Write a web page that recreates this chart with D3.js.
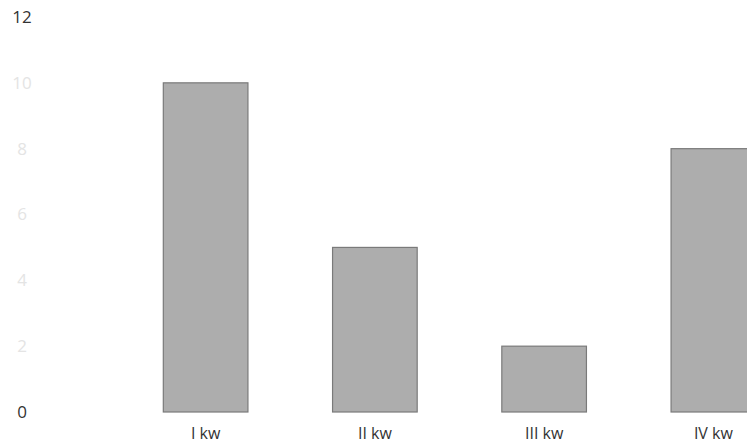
<!DOCTYPE html>
<html>
<head>
<meta charset="utf-8">
<script src="https://cdn.jsdelivr.net/npm/d3@7"></script>
<style>
html,body{margin:0;padding:0;background:#fff;}
svg{display:block;}
text{font-family:"Open Sans","Liberation Sans",sans-serif;}
</style>
</head>
<body>
<svg id="chart" width="747" height="446"></svg>
<script>
const categories = ["I kw", "II kw", "III kw", "IV kw"];
const values = [10, 5, 2, 8];
const yTicks = [0, 2, 4, 6, 8, 10, 12];

const svg = d3.select("#chart");
const x = d3.scaleBand().domain(categories).range([121, 798])
  .paddingInner(0.5).paddingOuter(0.25);
const y = d3.scaleLinear().domain([0, 12]).range([412, 17]);

// y tick labels
const faint = v => v !== 0 && v !== 12;
svg.append("g").selectAll("text").data(yTicks).join("text")
  .attr("x", 22).attr("y", d => y(d)).attr("dy", "0.35em")
  .attr("text-anchor", "middle")
  .attr("font-size", 17)
  .attr("fill", d => faint(d) ? "#e4e4e4" : "#333")
  .text(d => d);

// bars
svg.append("g").selectAll("rect").data(values).join("rect")
  .attr("x", (d, i) => x(categories[i]))
  .attr("y", d => y(d))
  .attr("width", x.bandwidth())
  .attr("height", d => y(0) - y(d))
  .attr("fill", "#adadad")
  .attr("stroke", "#7a7a7a")
  .attr("stroke-width", 1.2);

// x labels
svg.append("g").selectAll("text").data(categories).join("text")
  .attr("x", d => x(d) + x.bandwidth() / 2)
  .attr("y", 433).attr("dy", "0.35em")
  .attr("text-anchor", "middle")
  .attr("font-size", 16)
  .attr("fill", "#333")
  .text(d => d);
</script>
</body>
</html>
